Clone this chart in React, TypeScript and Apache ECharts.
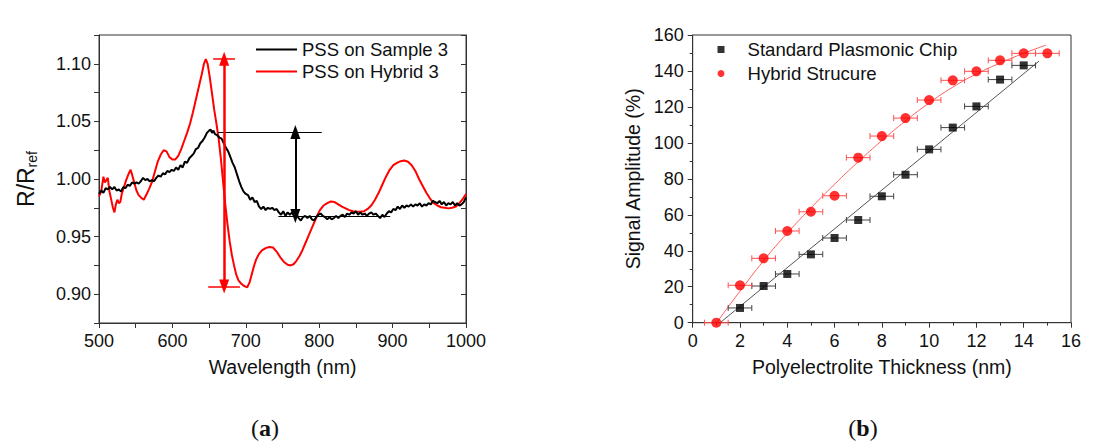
import React, { useEffect, useRef } from "react";
import * as echarts from "echarts";

// ---------- Panel (a): R/Rref spectra ----------
const sampleWavelength = [500, 503, 506, 509, 512, 515, 518, 521, 524, 527, 530, 533, 536, 539, 542, 545, 548, 551, 554, 557, 560, 563, 566, 569, 572, 575, 578, 581, 584, 587, 590, 593, 596, 599, 602, 605, 608, 611, 614, 617, 620, 623, 626, 629, 632, 635, 638, 641, 644, 647, 650, 652, 654, 656, 658, 661, 664, 667, 670, 673, 676, 679, 682, 685, 688, 691, 694, 697, 700, 703, 706, 709, 712, 715, 718, 721, 724, 727, 730, 733, 736, 739, 742, 745, 748, 751, 754, 757, 760, 763, 766, 769, 772, 775, 778, 781, 784, 787, 790, 793, 796, 799, 802, 805, 808, 811, 814, 817, 820, 823, 826, 829, 832, 835, 838, 841, 844, 847, 850, 853, 856, 859, 862, 865, 868, 871, 874, 877, 880, 883, 886, 889, 892, 895, 898, 901, 904, 907, 910, 913, 916, 919, 922, 925, 928, 931, 934, 937, 940, 943, 946, 949, 952, 955, 958, 961, 964, 967, 970, 973, 976, 979, 982, 985, 988, 991, 994, 997, 1000];
const sampleRatio = [0.987, 0.990, 0.988, 0.992, 0.991, 0.993, 0.991, 0.993, 0.990, 0.991, 0.989, 0.993, 0.992, 0.995, 0.994, 0.997, 0.996, 0.997, 0.996, 0.998, 1.001, 0.999, 1.000, 0.998, 0.999, 0.998, 1.001, 1.003, 1.002, 1.005, 1.004, 1.007, 1.006, 1.008, 1.007, 1.010, 1.008, 1.012, 1.010, 1.015, 1.014, 1.018, 1.020, 1.022, 1.026, 1.027, 1.031, 1.033, 1.036, 1.040, 1.042, 1.043, 1.040, 1.042, 1.039, 1.038, 1.036, 1.035, 1.031, 1.027, 1.024, 1.019, 1.014, 1.010, 1.004, 0.998, 0.993, 0.989, 0.987, 0.986, 0.982, 0.984, 0.980, 0.981, 0.976, 0.974, 0.976, 0.973, 0.975, 0.974, 0.975, 0.973, 0.974, 0.971, 0.969, 0.972, 0.968, 0.971, 0.969, 0.971, 0.968, 0.970, 0.966, 0.964, 0.967, 0.968, 0.966, 0.968, 0.965, 0.964, 0.967, 0.969, 0.970, 0.968, 0.967, 0.965, 0.967, 0.965, 0.966, 0.968, 0.966, 0.968, 0.969, 0.967, 0.970, 0.969, 0.971, 0.970, 0.972, 0.969, 0.971, 0.969, 0.970, 0.968, 0.970, 0.971, 0.969, 0.970, 0.968, 0.966, 0.969, 0.967, 0.970, 0.972, 0.971, 0.974, 0.973, 0.976, 0.974, 0.977, 0.975, 0.977, 0.976, 0.978, 0.976, 0.978, 0.977, 0.979, 0.976, 0.978, 0.977, 0.979, 0.978, 0.981, 0.980, 0.979, 0.981, 0.978, 0.980, 0.977, 0.979, 0.978, 0.980, 0.977, 0.979, 0.977, 0.978, 0.980, 0.984];

const hybridWavelength = [500, 503, 506, 508, 510, 512, 514, 517, 519, 521, 523, 525, 527, 529, 531, 534, 537, 540, 543, 545, 548, 551, 554, 557, 561, 565, 568, 572, 576, 580, 584, 588, 592, 596, 600, 604, 608, 612, 616, 620, 624, 628, 632, 636, 640, 643, 645.5, 648, 651, 654, 657, 660, 663, 666, 669, 672, 675, 678, 681, 684, 687, 690, 694, 698, 702, 705, 708, 711, 714, 718, 722, 727, 732, 737, 742, 747, 752, 757, 761, 765, 769, 773, 777, 781, 785, 789, 793, 797, 801, 806, 811, 816, 821, 826, 831, 836, 841, 846, 851, 856, 861, 866, 871, 876, 881, 886, 891, 896, 901, 906, 911, 916, 921, 926, 931, 936, 941, 946, 951, 956, 961, 966, 971, 976, 981, 986, 991, 996, 1000];
const hybridRatio = [0.985, 0.989, 1.002, 0.997, 0.999, 1.001, 0.990, 0.981, 0.975, 0.971, 0.978, 0.982, 0.979, 0.980, 0.987, 0.993, 0.999, 1.004, 1.008, 1.004, 0.997, 0.990, 0.986, 0.984, 0.982, 0.987, 0.991, 0.997, 1.006, 1.015, 1.021, 1.025, 1.024, 1.019, 1.017, 1.017, 1.020, 1.026, 1.033, 1.040, 1.048, 1.058, 1.069, 1.080, 1.091, 1.100, 1.104, 1.100, 1.088, 1.074, 1.060, 1.048, 1.035, 1.018, 0.998, 0.978, 0.961, 0.946, 0.934, 0.925, 0.917, 0.912, 0.909, 0.907, 0.906, 0.910, 0.917, 0.924, 0.930, 0.935, 0.938, 0.940, 0.941, 0.9405, 0.937, 0.932, 0.928, 0.9255, 0.925, 0.926, 0.929, 0.933, 0.938, 0.944, 0.950, 0.956, 0.962, 0.968, 0.973, 0.977, 0.979, 0.9805, 0.980, 0.978, 0.976, 0.9745, 0.973, 0.972, 0.9715, 0.9715, 0.972, 0.974, 0.977, 0.982, 0.988, 0.995, 1.002, 1.008, 1.012, 1.014, 1.0155, 1.016, 1.015, 1.012, 1.007, 1.000, 0.994, 0.988, 0.983, 0.979, 0.977, 0.9755, 0.975, 0.9745, 0.975, 0.976, 0.979, 0.983, 0.987];

// annotation arrows (data coordinates)
const redArrow = { x: 670.5, top: 1.1043, bottom: 0.9067 };
const redTopCap = [655.6, 685.2];
const redBottomCap = [648.8, 692];
const blackArrow = { x: 767.5, top: 1.0408, bottom: 0.9678 };
const blackTopCap = [662.4, 803.5];
const blackBottomCap = [744.3, 896.7];

// ---------- Panel (b): signal amplitude ----------
const standardThickness = [2, 3, 4, 5, 6, 7, 8, 9, 10, 11, 12, 13, 14];
const standardAmplitude = [8.2, 20.4, 27.1, 38.0, 47.1, 57.1, 70.3, 82.3, 96.4, 108.5, 120.3, 135.2, 143.1];
const hybridThickness = [1, 2, 3, 4, 5, 6, 7, 8, 9, 10, 11, 12, 13, 14, 15];
const hybridAmplitude = [0, 20.8, 35.8, 51.0, 61.7, 70.6, 91.8, 103.8, 113.8, 123.8, 134.8, 139.8, 145.9, 149.8, 149.8];
const thicknessError = [0.5];

const standardFitX = [1.16, 14.65];
const standardFitY = [0, 145.5];
const hybridFitX = [1.01, 2, 3, 4, 5, 6, 7, 8, 9, 10, 11, 12, 13, 14, 14.95];
const hybridFitY = [0, 17.5, 34.5, 49.8, 63.8, 77, 89.5, 101.3, 112.2, 122.2, 131, 138.3, 144.4, 149.8, 154.4];

const FONT = "'Liberation Sans', Arial, sans-serif";
const SERIF = "'Liberation Serif', serif";
const TXT = "#111";
const AX = "#333";

function zip(xs: number[], ys: number[]) {
  return xs.map((x, i) => [x, ys[i]]);
}

export default function App() {
  const ref = useRef<HTMLDivElement>(null);
  useEffect(() => {
    if (!ref.current) return;
    const chart = echarts.init(ref.current, null, { renderer: "svg" });
    const err = thicknessError[0];

    const errorBar = (color: string) => (params: any, api: any) => {
      const y = api.value(1);
      const lo = api.coord([api.value(0) - err, y]);
      const hi = api.coord([api.value(0) + err, y]);
      const c = 3;
      const st = { stroke: color, lineWidth: 1 };
      return {
        type: "group",
        children: [
          { type: "line", shape: { x1: lo[0], y1: lo[1], x2: hi[0], y2: hi[1] }, style: st },
          { type: "line", shape: { x1: lo[0], y1: lo[1] - c, x2: lo[0], y2: lo[1] + c }, style: st },
          { type: "line", shape: { x1: hi[0], y1: hi[1] - c, x2: hi[0], y2: hi[1] + c }, style: st },
        ],
      };
    };

    const labelStyle = { color: TXT, fontFamily: FONT, fontSize: 18 };
    const nameStyle = { color: TXT, fontFamily: FONT, fontSize: 19.5 };

    const seg = (x1: number, y1: number, x2: number, y2: number) => [
      { coord: [x1, y1] },
      { coord: [x2, y2] },
    ];

    const paren = (letter: string) => ({
      text: `{p|(}{b|${letter}}{p|)}`,
      align: "center",
      verticalAlign: "middle",
      rich: {
        p: { fontFamily: SERIF, fontSize: 24, fill: "#111" },
        b: { fontFamily: SERIF, fontSize: 24, fontWeight: "bold", fill: "#111" },
      },
    });

    chart.setOption({
      animation: false,
      backgroundColor: "#fff",
      grid: [
        { left: 99, top: 35, width: 367, height: 288, show: true, borderColor: AX, borderWidth: 1, backgroundColor: "transparent" },
        { left: 692.7, top: 35, width: 378.3, height: 287.7, show: true, borderColor: AX, borderWidth: 1, backgroundColor: "transparent" },
      ],
      legend: [
        {
          data: [
            { name: "PSS on Sample 3", icon: "rect", itemStyle: { color: "#000" } },
            { name: "PSS on Hybrid 3", icon: "rect", itemStyle: { color: "#ff0000" } },
          ],
          orient: "vertical",
          left: 256,
          top: 40,
          padding: 0,
          itemWidth: 41,
          itemHeight: 2,
          itemGap: 3,
          textStyle: { color: TXT, fontFamily: FONT, fontSize: 18.5 },
          selectedMode: false,
        },
        {
          data: ["Standard Plasmonic Chip", "Hybrid Strucure"],
          orient: "vertical",
          left: 717.5,
          top: 40,
          padding: 0,
          itemWidth: 7,
          itemHeight: 7,
          itemGap: 5,
          textStyle: { color: TXT, fontFamily: FONT, fontSize: 18.6, padding: [0, 0, 0, 18] },
          selectedMode: false,
        },
      ],
      xAxis: [
        {
          type: "value",
          gridIndex: 0,
          min: 500,
          max: 1000,
          interval: 100,
          name: "Wavelength (nm)",
          nameLocation: "middle",
          nameGap: 34,
          nameTextStyle: nameStyle,
          axisLine: { show: true, lineStyle: { color: AX, width: 1 } },
          axisTick: { show: true, inside: false, length: 5, lineStyle: { color: AX } },
          minorTick: { show: true, splitNumber: 2, length: 5, lineStyle: { color: AX } },
          axisLabel: { ...labelStyle, margin: 9, formatter: (v: number) => String(v) },
          splitLine: { show: false },
        },
        {
          type: "value",
          gridIndex: 1,
          min: 0,
          max: 16,
          interval: 2,
          name: "Polyelectrolite Thickness (nm)",
          nameLocation: "middle",
          nameGap: 34,
          nameTextStyle: nameStyle,
          axisLine: { show: true, lineStyle: { color: AX, width: 1 } },
          axisTick: { show: true, inside: false, length: 5, lineStyle: { color: AX } },
          minorTick: { show: true, splitNumber: 2, length: 3, lineStyle: { color: AX } },
          axisLabel: { ...labelStyle, margin: 9, formatter: (v: number) => String(v) },
          splitLine: { show: false },
        },
      ],
      yAxis: [
        {
          type: "value",
          gridIndex: 0,
          min: 0.875,
          max: 1.125,
          interval: 0.025,
          name: "{a|R/R}{b|ref}",
          nameLocation: "middle",
          nameGap: 60,
          nameTextStyle: {
            color: TXT,
            fontFamily: FONT,
            fontSize: 23,
            rich: {
              a: { fontSize: 23, fontFamily: FONT, color: TXT, lineHeight: 26, verticalAlign: "middle" },
              b: { fontSize: 14, fontFamily: FONT, color: TXT, lineHeight: 11, verticalAlign: "bottom" },
            },
          },
          axisLine: { show: true, lineStyle: { color: AX, width: 1 } },
          axisTick: { show: true, inside: false, length: 5, lineStyle: { color: AX } },
          axisLabel: {
            ...labelStyle,
            margin: 8,
            interval: 0,
            formatter: (v: number) => (Math.abs(v * 20 - Math.round(v * 20)) < 1e-6 ? v.toFixed(2) : ""),
          },
          splitLine: { show: false },
        },
        {
          type: "value",
          gridIndex: 0,
          position: "right",
          min: 0.875,
          max: 1.125,
          interval: 0.025,
          axisLine: { show: true, lineStyle: { color: AX, width: 1 } },
          axisTick: { show: true, inside: true, length: 5, lineStyle: { color: AX } },
          axisLabel: { show: false },
          splitLine: { show: false },
        },
        {
          type: "value",
          gridIndex: 1,
          min: 0,
          max: 160,
          interval: 20,
          name: "Signal Amplitude (%)",
          nameLocation: "middle",
          nameGap: 50,
          nameTextStyle: nameStyle,
          axisLine: { show: true, lineStyle: { color: AX, width: 1 } },
          axisTick: { show: true, inside: false, length: 5, lineStyle: { color: AX } },
          minorTick: { show: true, splitNumber: 2, length: 3, lineStyle: { color: AX } },
          axisLabel: { ...labelStyle, margin: 9 },
          splitLine: { show: false },
        },
      ],
      series: [
        {
          name: "PSS on Sample 3",
          type: "line",
          xAxisIndex: 0,
          yAxisIndex: 0,
          data: zip(sampleWavelength, sampleRatio),
          symbol: "none",
          lineStyle: { color: "#000", width: 2 },
          itemStyle: { color: "#000" },
          z: 3,
          markLine: {
            silent: true,
            symbol: "none",
            label: { show: false },
            lineStyle: { color: "#000", width: 1, type: "solid" },
            data: [
              seg(blackTopCap[0], blackArrow.top, blackTopCap[1], blackArrow.top),
              seg(blackBottomCap[0], blackArrow.bottom, blackBottomCap[1], blackArrow.bottom),
            ],
          },
        },
        {
          name: "PSS on Hybrid 3",
          type: "line",
          xAxisIndex: 0,
          yAxisIndex: 0,
          data: zip(hybridWavelength, hybridRatio),
          symbol: "none",
          lineStyle: { color: "#ff0000", width: 2 },
          itemStyle: { color: "#ff0000" },
          z: 2,
          markLine: {
            silent: true,
            symbol: "none",
            label: { show: false },
            lineStyle: { color: "#ff0000", width: 1.5, type: "solid" },
            data: [
              seg(redTopCap[0], redArrow.top, redTopCap[1], redArrow.top),
              seg(redBottomCap[0], redArrow.bottom, redBottomCap[1], redArrow.bottom),
            ],
          },
        },
        {
          name: "redArrow",
          type: "line",
          xAxisIndex: 0,
          yAxisIndex: 0,
          data: [],
          z: 4,
          markLine: {
            silent: true,
            symbol: ["triangle", "triangle"],
            symbolSize: [10, 14],
            label: { show: false },
            lineStyle: { color: "#ff0000", width: 2.5, type: "solid" },
            itemStyle: { color: "#ff0000" },
            data: [seg(redArrow.x, redArrow.bottom, redArrow.x, redArrow.top)],
          },
        },
        {
          name: "blackArrow",
          type: "line",
          xAxisIndex: 0,
          yAxisIndex: 0,
          data: [],
          z: 4,
          markLine: {
            silent: true,
            symbol: ["triangle", "triangle"],
            symbolSize: [10, 14],
            label: { show: false },
            lineStyle: { color: "#000", width: 2, type: "solid" },
            itemStyle: { color: "#000" },
            data: [seg(blackArrow.x, blackArrow.bottom, blackArrow.x, blackArrow.top)],
          },
        },
        // panel b
        {
          name: "Standard fit",
          type: "line",
          xAxisIndex: 1,
          yAxisIndex: 2,
          data: zip(standardFitX, standardFitY),
          symbol: "none",
          lineStyle: { color: "#555", width: 1 },
          z: 1,
        },
        {
          name: "Hybrid fit",
          type: "line",
          xAxisIndex: 1,
          yAxisIndex: 2,
          data: zip(hybridFitX, hybridFitY),
          symbol: "none",
          smooth: true,
          lineStyle: { color: "#ff6060", width: 1 },
          z: 1,
        },
        {
          name: "Standard err",
          type: "custom",
          xAxisIndex: 1,
          yAxisIndex: 2,
          data: zip(standardThickness, standardAmplitude),
          renderItem: errorBar("#444"),
          z: 2,
        },
        {
          name: "Hybrid err",
          type: "custom",
          xAxisIndex: 1,
          yAxisIndex: 2,
          data: zip(hybridThickness, hybridAmplitude),
          renderItem: errorBar("#ff5050"),
          z: 2,
        },
        {
          name: "Standard Plasmonic Chip",
          type: "scatter",
          xAxisIndex: 1,
          yAxisIndex: 2,
          data: zip(standardThickness, standardAmplitude),
          symbol: "rect",
          symbolSize: 8,
          itemStyle: { color: "#000" },
          z: 3,
        },
        {
          name: "Hybrid Strucure",
          type: "scatter",
          xAxisIndex: 1,
          yAxisIndex: 2,
          data: zip(hybridThickness, hybridAmplitude),
          symbol: "circle",
          symbolSize: 10,
          itemStyle: { color: "#ff0000" },
          z: 3,
        },
      ],
      graphic: [
        { type: "text", x: 265, y: 428, style: paren("a") },
        { type: "text", x: 863, y: 428, style: paren("b") },
      ],
    });
    return () => chart.dispose();
  }, []);
  return <div ref={ref} style={{ width: 1102, height: 441, position: "absolute", left: 0, top: 0 }} />;
}
